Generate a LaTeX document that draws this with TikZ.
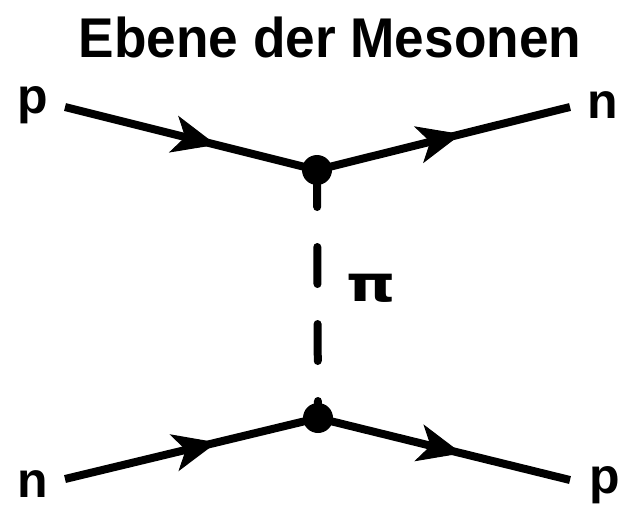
\documentclass[tikz,border=0pt]{standalone}
\usepackage{fontspec}
\setmainfont{Liberation Sans}
\newfontfamily\pifont{DejaVu Sans}
\usetikzlibrary{arrows.meta,decorations.markings}
\begin{document}
\begin{tikzpicture}[x=1pt,y=-1pt,
  fermion/.style={line width=8pt, postaction={decorate},
    decoration={markings, mark=at position #1 with {\arrow{Stealth[length=44pt,width=38pt,inset=12pt,line width=1pt]}}}},
  vertexdot/.style={circle, fill=black, inner sep=0pt, minimum size=30pt},
  particle/.style={anchor=base, inner sep=0pt, font=\bfseries\fontsize{50}{54}\selectfont},
  meson/.style={line width=8pt, line cap=round, dash pattern=on 37pt off 40pt}]
\useasboundingbox (0,0) rectangle (619,507);
\node[anchor=base, inner sep=0pt, font=\bfseries\fontsize{56}{60}\selectfont] (title) at (330,57) {\scalebox{0.95}[1]{Ebene der Mesonen}};
\node[particle] (pin) at (33,113) {p};
\node[particle] (nout) at (603,118) {n};
\node[particle] (nin) at (33,497) {n};
\node[particle] (pout) at (605,493) {p};
\node[anchor=base, inner sep=0pt, font=\pifont\bfseries\fontsize{50}{54}\selectfont] (pi) at (371,301) {\scalebox{1.25}[1]{π}};
\coordinate (a1) at (65,107);
\coordinate (b1) at (570,107);
\coordinate (a2) at (65,479);
\coordinate (b2) at (570,480);
\node[vertexdot] (v1) at (317,170) {};
\node[vertexdot] (v2) at (318,418) {};
\draw[meson] (v1.center) -- (v2.center);
\draw[fermion=0.6] (a1) -- (v1.center);
\draw[fermion=0.57] (v1.center) -- (b1);
\draw[fermion=0.6] (a2) -- (v2.center);
\draw[fermion=0.57] (v2.center) -- (b2);
\end{tikzpicture}
\end{document}
